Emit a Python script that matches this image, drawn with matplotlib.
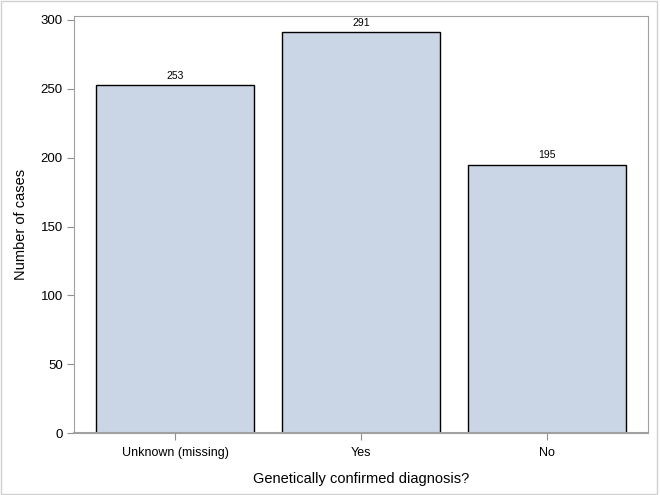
import matplotlib
matplotlib.use("Agg")
import matplotlib.pyplot as plt
from matplotlib.patches import Rectangle

categories = ["Unknown (missing)", "Yes", "No"]
counts = [253, 291, 195]
yticks = [0, 50, 100, 150, 200, 250, 300]

plt.rcParams["font.family"] = ["Liberation Sans", "DejaVu Sans"]

fig = plt.figure(figsize=(6.6, 4.95), dpi=100)
ax = fig.add_axes([0.112, 0.125, 0.870, 0.843])

x = range(len(categories))
bars = ax.bar(x, counts, width=0.85, color="#CAD5E5", edgecolor="black", linewidth=1)
for b, c in zip(bars, counts):
    ax.text(b.get_x() + b.get_width() / 2, c + 3, str(c), ha="center", va="bottom", fontsize=7.5)

ax.set_xlim(-0.543, 2.543)
ax.set_ylim(0, 303)
ax.set_xticks(list(x))
ax.set_xticklabels(categories, fontsize=9)
ax.set_yticks(yticks)
ax.tick_params(axis="y", labelsize=9.5, color="#909090", length=5, pad=3)
ax.tick_params(axis="x", color="#909090", length=5, pad=5)
for s in ax.spines.values():
    s.set_color("#A0A0A0")
ax.spines["bottom"].set_linewidth(1.5)
ax.set_xlabel("Genetically confirmed diagnosis?", fontsize=10.5, labelpad=9)
ax.set_ylabel("Number of cases", fontsize=10.5, labelpad=9)

fig.patches.append(Rectangle((0.002, 0.002), 0.993, 0.995, transform=fig.transFigure,
                             fill=False, edgecolor="#D0D0D0", linewidth=1))

fig.savefig("out.png", dpi=100)
